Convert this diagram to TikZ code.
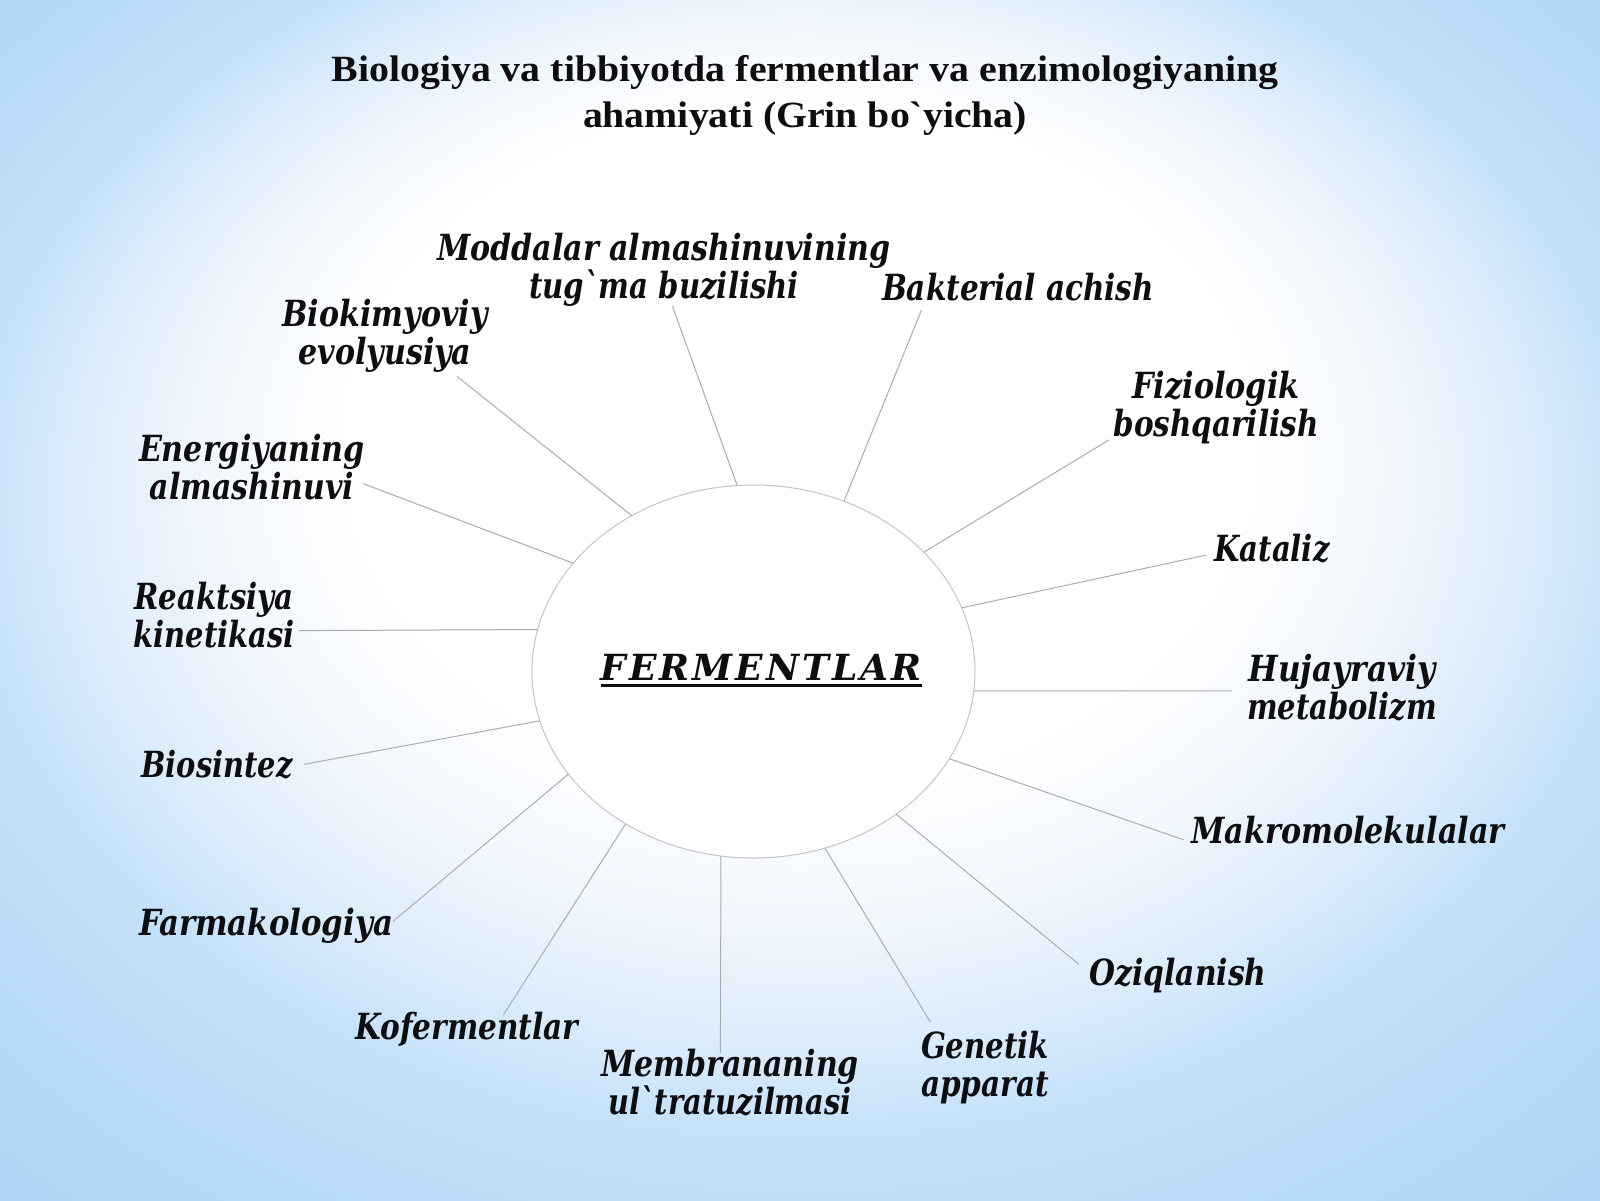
\documentclass[tikz,border=0pt]{standalone}
\usepackage{fontspec}
\usepackage{graphicx}
\usetikzlibrary{shapes.geometric}
\newfontfamily\labfont[Ligatures=TeXOff]{DejaVu Serif}
\newfontfamily\titfont[Ligatures=TeXOff]{Liberation Serif}
\definecolor{bgc0}{RGB}{240,246,253}
\definecolor{bgc1}{RGB}{218,235,251}
\definecolor{bgc2}{RGB}{196,225,249}
\definecolor{bgc3}{RGB}{181,217,247}
\definecolor{bgc4}{RGB}{168,208,245}
\definecolor{linegray}{RGB}{172,172,176}
\definecolor{ellgray}{RGB}{196,196,200}
\definecolor{txt}{RGB}{14,14,16}
\pgfdeclareradialshading{bgsh}{\pgfpoint{0bp}{10bp}}{color(0bp)=(white); color(14bp)=(white); color(19bp)=(bgc0); color(23bp)=(bgc1); color(26bp)=(bgc2); color(32bp)=(bgc3); color(40bp)=(bgc4)}
\newlength\mylsk
\newcommand\twol[2]{\vtop{\baselineskip\mylsk\lineskiplimit-100pt\relax\halign{\hfil##\hfil\cr#1\cr#2\cr}}}
\newcommand\lw[2]{\resizebox{#1pt}{\height}{#2}}
\begin{document}
\begin{tikzpicture}[x=1pt,y=-1pt,
  lab/.style={font=\labfont\bfseries\itshape\fontsize{36}{38}\selectfont\setlength\mylsk{38pt}, text=txt, inner sep=0pt, outer sep=0pt, anchor=base},
  tit/.style={font=\titfont\bfseries\fontsize{37}{46}\selectfont\setlength\mylsk{46pt}, text=txt, inner sep=0pt, outer sep=0pt, anchor=base},
  conn/.style={draw=linegray, line width=1pt}]
\fill[bgc4] (0,0) rectangle (1600,1200);
\shade[shading=bgsh] (0,0) rectangle (1600,1200);
\useasboundingbox (0,0) rectangle (1600,1200);

% title
\node[tit] (title) at (805,81) {\twol{\lw{947}{Biologiya va tibbiyotda fermentlar va enzimologiyaning}}{\lw{444}{ahamiyati (Grin bo`yicha)}}};

% centre
\node[ellipse, draw=ellgray, fill=white, line width=1pt, minimum width=443pt, minimum height=373pt, inner sep=0pt, outer sep=0pt] (E) at (753.5,671.5) {};
\node[lab] (fer) at (761,680.5) {\lw{321}{F\kern3pt E\kern3pt R\kern3pt M\kern3pt E\kern3pt N\kern3pt T\kern3pt L\kern3pt A\kern3pt R}};
\draw[line width=2.2pt, txt] ([yshift=-5pt]fer.base west) -- ([yshift=-5pt]fer.base east);

% labels
\node[lab] (mod) at (664,260) {\twol{\lw{453}{Moddalar almashinuvining}}{\lw{270}{tug`ma buzilishi}}};
\node[lab] (bak) at (1018,300) {\lw{272}{Bakterial achish}};
\node[lab] (bio) at (385,326) {\twol{\lw{205}{Biokimyoviy}}{\lw{173}{evolyusiya}}};
\node[lab] (fiz) at (1216,398) {\twol{\lw{167}{Fiziologik}}{\lw{205}{boshqarilish}}};
\node[lab] (ene) at (252,461) {\twol{\lw{226}{Energiyaning}}{\lw{204}{almashinuvi}}};
\node[lab] (kat) at (1272,561) {\lw{115}{Kataliz}};
\node[lab] (rea) at (214,609) {\twol{\lw{159}{Reaktsiya}}{\lw{161}{kinetikasi}}};
\node[lab] (huj) at (1342,681) {\twol{\lw{187}{Hujayraviy}}{\lw{190}{metabolizm}}};
\node[lab] (bis) at (217,777) {\lw{151}{Biosintez}};
\node[lab] (mak) at (1348,843) {\lw{313}{Makromolekulalar}};
\node[lab] (far) at (266,935) {\lw{254}{Farmakologiya}};
\node[lab] (ozi) at (1178,985) {\lw{177}{Oziqlanish}};
\node[lab] (kof) at (467,1039) {\lw{223}{Kofermentlar}};
\node[lab] (gen) at (985,1058) {\twol{\lw{128}{Genetik}}{\lw{128}{apparat}}};
\node[lab] (mem) at (730,1076) {\twol{\lw{258}{Membrananing}}{\lw{243}{ul`tratuzilmasi}}};

% free ends of connectors
\coordinate (cmod) at (672.4,306.1);
\coordinate (cbak) at (921.4,310.2);
\coordinate (cbio) at (457.1,376.5);
\coordinate (cfiz) at (1109.2,439.8);
\coordinate (cene) at (363.3,483.7);
\coordinate (ckat) at (1206.1,555.1);
\coordinate (crea) at (299.0,630.6);
\coordinate (chuj) at (1231.6,690.8);
\coordinate (cbis) at (304.1,764.3);
\coordinate (cmak) at (1183.7,839.8);
\coordinate (cfar) at (392.9,921.4);
\coordinate (cozi) at (1078.8,964.3);
\coordinate (ckof) at (503.1,1015.3);
\coordinate (cgen) at (930.6,1022.4);
\coordinate (cmem) at (720.4,1053.1);

% connectors
\draw[conn] (E.95.7) -- (cmod);
\draw[conn] (E.62.5) -- (cbak);
\draw[conn] (E.128.8) -- (cbio);
\draw[conn] (E.35.6) -- (cfiz);
\draw[conn] (E.149.8) -- (cene);
\draw[conn] (E.17.6) -- (ckat);
\draw[conn] (E.169.2) -- (crea);
\draw[conn] (E.355.3) -- (chuj);
\draw[conn] (E.193.0) -- (cbis);
\draw[conn] (E.336.8) -- (cmak);
\draw[conn] (E.209.8) -- (cfar);
\draw[conn] (E.315.3) -- (cozi);
\draw[conn] (E.230.7) -- (ckof);
\draw[conn] (E.292.6) -- (cgen);
\draw[conn] (E.260.0) -- (cmem);
\end{tikzpicture}
\end{document}
